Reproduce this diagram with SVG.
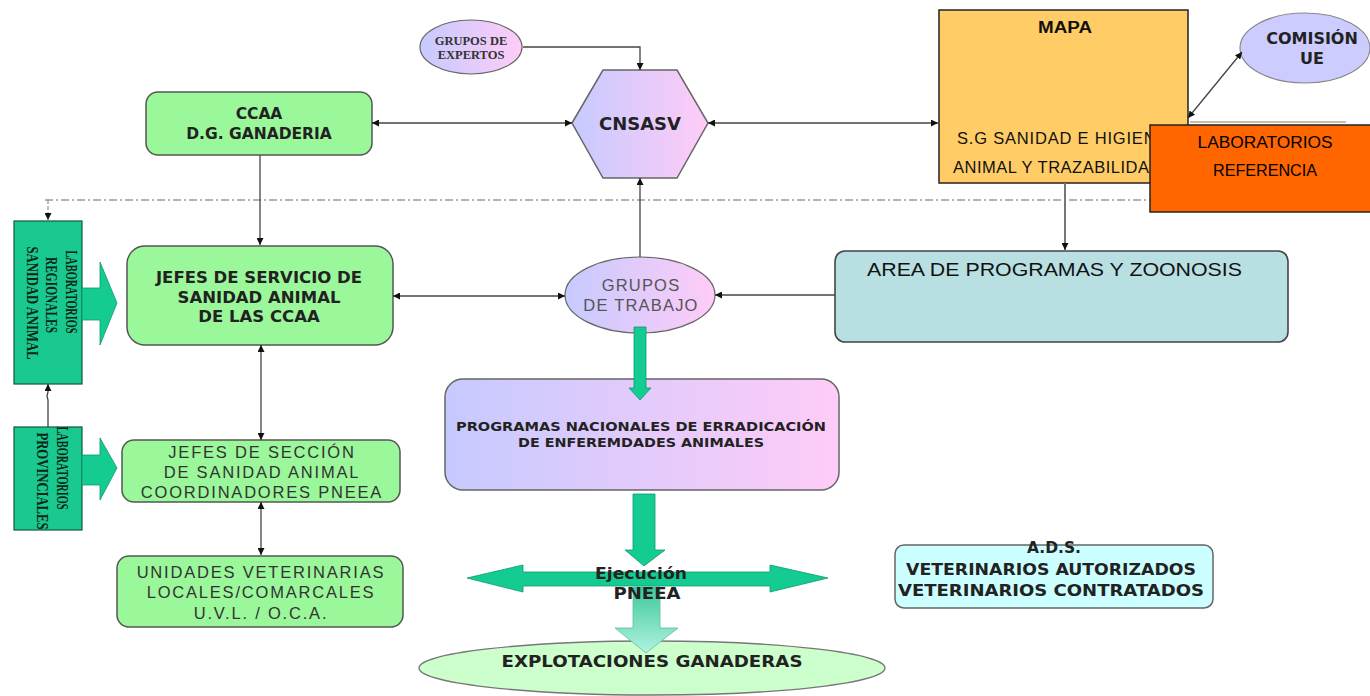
<svg xmlns="http://www.w3.org/2000/svg" width="1370" height="696" viewBox="0 0 1370 696">
<style>
.bx{stroke:#555;stroke-width:1.5}
.green{fill:#9af79a}
.lab{fill:#19c98f;stroke:#0d5a40;stroke-width:1.2}
.fat{fill:#14cc92;stroke:#0b9a6c;stroke-width:0.8}
.conn{stroke:#444;stroke-width:1.3;fill:none}
.b{font-family:"DejaVu Sans",Verdana,sans-serif;font-weight:bold;fill:#222;text-anchor:middle}
.r{font-family:"Liberation Sans",Arial,sans-serif;fill:#333;text-anchor:middle}
.s{font-family:"Liberation Serif","Times New Roman",serif;font-weight:bold;fill:#333;text-anchor:middle}
.k{fill:#000}
.g5{fill:#555}
</style>
<defs>
<linearGradient id="lp" x1="0" y1="0" x2="1" y2="0">
<stop offset="0" stop-color="#c6caff"/>
<stop offset="1" stop-color="#ffccf7"/>
</linearGradient>
<linearGradient id="dg" x1="0" y1="0" x2="0" y2="1">
<stop offset="0" stop-color="#3cc99c"/>
<stop offset="1" stop-color="#b2f2e0"/>
</linearGradient>
<marker id="ah" viewBox="0 0 10 10" refX="10" refY="5" markerWidth="7" markerHeight="7" markerUnits="userSpaceOnUse" orient="auto-start-reverse">
<path d="M0,0 L10,5 L0,10 z" fill="#111"/>
</marker>
<clipPath id="mapclip"><rect x="939" y="10" width="211" height="173"/></clipPath>
</defs>

<g id="grupos-expertos">
<ellipse cx="471" cy="47" rx="51" ry="27" fill="url(#lp)" stroke="#666" stroke-width="1.2"/>
<text class="s" x="471" y="45" font-size="12.5">GRUPOS DE</text>
<text class="s" x="471" y="59" font-size="12.5">EXPERTOS</text>
</g>

<g id="cnsasv">
<polygon points="572,123 603,70 677,70 708,123 677,178 603,178" fill="url(#lp)" stroke="#666" stroke-width="1.5"/>
<text class="b" x="640" y="130" font-size="18">CNSASV</text>
</g>

<g id="ccaa">
<rect class="bx green" x="146" y="92" width="226" height="63" rx="12"/>
<text class="b" x="259" y="119" font-size="15.5">CCAA</text>
<text class="b" x="259" y="139" font-size="15.5">D.G. GANADERIA</text>
</g>

<g id="mapa">
<rect x="939" y="10" width="249" height="173" fill="#ffcc66" stroke="#222" stroke-width="1.5"/>
<text x="1065" y="33" font-family="'Liberation Sans',Arial,sans-serif" font-weight="bold" font-size="16" text-anchor="middle" fill="#111" textLength="54" lengthAdjust="spacingAndGlyphs">MAPA</text>
<g clip-path="url(#mapclip)" font-family="'Liberation Sans',Arial,sans-serif" font-size="16.5" fill="#111">
<text x="957" y="144" letter-spacing="0.8">S.G SANIDAD  E HIGIENE</text>
<text x="953" y="173" letter-spacing="0.5">ANIMAL Y TRAZABILIDAD</text>
</g>
</g>

<g id="comision-ue">
<ellipse cx="1305" cy="48" rx="65" ry="35" fill="#ccccff" stroke="#888" stroke-width="1.2"/>
<text class="b" x="1312" y="44" font-size="16">COMISIÓN</text>
<text class="b" x="1312" y="64" font-size="16">UE</text>
</g>

<g id="lab-regionales">
<rect class="lab" x="14" y="221" width="68" height="163"/>
<g transform="translate(52,300) rotate(90)" font-family="'Liberation Serif','Times New Roman',serif" font-weight="bold" font-size="16" fill="#0a2418" text-anchor="middle">
<text x="-8" y="-14" textLength="83" lengthAdjust="spacingAndGlyphs">LABORATORIOS</text>
<text x="-5" y="6" textLength="76" lengthAdjust="spacingAndGlyphs">REGIONALES</text>
<text x="3" y="25" textLength="113" lengthAdjust="spacingAndGlyphs">SANIDAD ANIMAL</text>
</g>
</g>

<g id="lab-provinciales">
<rect class="lab" x="14" y="427" width="68" height="103"/>
<g transform="translate(53,475) rotate(90)" font-family="'Liberation Serif','Times New Roman',serif" font-weight="bold" font-size="16" fill="#0a2418" text-anchor="middle">
<text x="-7" y="-4" textLength="83" lengthAdjust="spacingAndGlyphs">LABORATORIOS</text>
<text x="6" y="16" textLength="97" lengthAdjust="spacingAndGlyphs">PROVINCIALES</text>
</g>
</g>

<g id="jefes-servicio">
<rect class="bx green" x="127" y="246" width="266" height="99" rx="18"/>
<text class="b" x="259" y="283" font-size="16.5">JEFES DE SERVICIO DE</text>
<text class="b" x="259" y="303" font-size="16.5">SANIDAD ANIMAL</text>
<text class="b" x="259" y="322" font-size="16.5">DE LAS CCAA</text>
</g>

<g id="grupos-trabajo">
<ellipse cx="640" cy="295" rx="75" ry="38" fill="url(#lp)" stroke="#666" stroke-width="1.2"/>
<text class="r g5" x="641" y="291" font-size="16.5" letter-spacing="1.2">GRUPOS</text>
<text class="r g5" x="641" y="311" font-size="16.5" letter-spacing="1.2">DE TRABAJO</text>
</g>

<g id="area-programas">
<rect x="835" y="251" width="453" height="91" rx="10" fill="#b8dfe2" stroke="#444" stroke-width="1.6"/>
<text x="867" y="276" font-family="'Liberation Sans',Arial,sans-serif" font-size="19" fill="#111" textLength="375" lengthAdjust="spacingAndGlyphs">AREA DE PROGRAMAS Y ZOONOSIS</text>
</g>

<g id="programas-nacionales">
<rect x="445" y="379" width="394" height="111" rx="18" fill="url(#lp)" stroke="#666" stroke-width="1.5"/>
<text class="b" x="641" y="431" font-size="13" textLength="370" lengthAdjust="spacingAndGlyphs">PROGRAMAS NACIONALES DE ERRADICACIÓN</text>
<text class="b" x="641" y="447" font-size="13" textLength="246" lengthAdjust="spacingAndGlyphs">DE ENFEREMDADES ANIMALES</text>
</g>

<g id="jefes-seccion">
<rect class="bx green" x="122" y="440" width="278" height="62" rx="12"/>
<text class="r" x="262" y="458" font-size="16.5" letter-spacing="1.8">JEFES DE SECCIÓN</text>
<text class="r" x="262" y="478" font-size="16.5" letter-spacing="1.8">DE SANIDAD ANIMAL</text>
<text class="r" x="262" y="498" font-size="16.5" letter-spacing="1.8">COORDINADORES PNEEA</text>
</g>

<g id="unidades-veterinarias">
<rect class="bx green" x="117" y="556" width="286" height="71" rx="12"/>
<text class="r" x="261" y="578" font-size="16.5" letter-spacing="1.8">UNIDADES VETERINARIAS</text>
<text class="r" x="261" y="598" font-size="16.5" letter-spacing="1.8">LOCALES/COMARCALES</text>
<text class="r" x="261" y="619" font-size="16.5" letter-spacing="1.8">U.V.L. / O.C.A.</text>
</g>

<g id="ads">
<rect x="895" y="545" width="318" height="63" rx="9" fill="#ccffff" stroke="#666" stroke-width="1.5"/>
<text class="b" x="1054" y="553" font-size="15.5">A.D.S.</text>
<text class="b" x="1051" y="575" font-size="16" textLength="290" lengthAdjust="spacingAndGlyphs">VETERINARIOS AUTORIZADOS</text>
<text class="b" x="1051" y="596" font-size="16" textLength="306" lengthAdjust="spacingAndGlyphs">VETERINARIOS CONTRATADOS</text>
</g>

<g id="explotaciones">
<ellipse cx="652" cy="668" rx="233" ry="27" fill="#ccffcc" stroke="#777" stroke-width="1.3"/>
</g>

<!-- connectors -->
<g id="connectors">
<line x1="45" y1="200" x2="1150" y2="200" stroke="#9a9a9a" stroke-width="1.3" stroke-dasharray="8,3,2,3"/>
<polyline points="48,200 48,220" stroke="#9a9a9a" stroke-width="1.3" stroke-dasharray="4,2" fill="none" marker-end="url(#ah)"/>
<polyline class="conn" points="523,47 640,47 640,70" marker-end="url(#ah)"/>
<line class="conn" x1="372" y1="123" x2="572" y2="123" marker-start="url(#ah)" marker-end="url(#ah)"/>
<line class="conn" x1="708" y1="123" x2="938" y2="123" marker-start="url(#ah)" marker-end="url(#ah)"/>
<line class="conn" x1="1188" y1="118" x2="1242" y2="52" marker-start="url(#ah)" marker-end="url(#ah)"/>
<line class="conn" x1="260" y1="155" x2="260" y2="245" marker-end="url(#ah)"/>
<line class="conn" x1="393" y1="296" x2="565" y2="296" marker-start="url(#ah)" marker-end="url(#ah)"/>
<line class="conn" x1="640" y1="257" x2="640" y2="178" marker-end="url(#ah)"/>
<line class="conn" x1="835" y1="295" x2="715" y2="295" marker-end="url(#ah)"/>
<line x1="1065" y1="183" x2="1065" y2="250" stroke="#777" stroke-width="2" marker-end="url(#ah)"/>
<line class="conn" x1="261" y1="345" x2="261" y2="440" marker-start="url(#ah)" marker-end="url(#ah)"/>
<line class="conn" x1="261" y1="502" x2="261" y2="555" marker-start="url(#ah)" marker-end="url(#ah)"/>
<polyline class="conn" points="48,427 48,400 47,396 48,392 48,384" marker-end="url(#ah)"/>
<polygon class="fat" points="82,288 100,288 100,262 117,303 100,345 100,320 82,320"/>
<polygon class="fat" points="82,455 100,455 100,438 117,468 100,500 100,485 82,485"/>
<polygon class="fat" points="634,327 646,327 646,388 651,388 640,400 629,388 634,388"/>
<polygon class="fat" points="633,494 655,494 655,550 665,550 644,566 625,550 633,550"/>
<polygon fill="url(#dg)" stroke="#5cbf9f" stroke-width="0.8" points="633,587 660,587 660,628 678,628 646,653 615,628 633,628"/>
<polygon class="fat" points="467,578 523,565 523,572 770,572 770,565 828,578 770,592 770,586 523,586 523,592"/>
</g>

<g id="laboratorios-referencia">
<line x1="1190" y1="122" x2="1346" y2="122" stroke="#b9a58f" stroke-width="1.5"/>
<rect x="1150" y="125" width="222" height="87" fill="#ff6600" stroke="#222" stroke-width="1.5"/>
<text class="r k" x="1265" y="148" font-size="16" textLength="135" lengthAdjust="spacingAndGlyphs">LABORATORIOS</text>
<text class="r k" x="1265" y="176" font-size="16" textLength="104" lengthAdjust="spacingAndGlyphs">REFERENCIA</text>
</g>

<g id="ejecucion">
<text class="b" x="641" y="579" font-size="15" textLength="92" lengthAdjust="spacingAndGlyphs">Ejecución</text>
<text class="b" x="647" y="599" font-size="15" textLength="67" lengthAdjust="spacingAndGlyphs">PNEEA</text>
</g>

<g id="explotaciones-label">
<text class="b" x="652" y="667" font-size="15.5" textLength="301" lengthAdjust="spacingAndGlyphs">EXPLOTACIONES GANADERAS</text>
</g>
</svg>
